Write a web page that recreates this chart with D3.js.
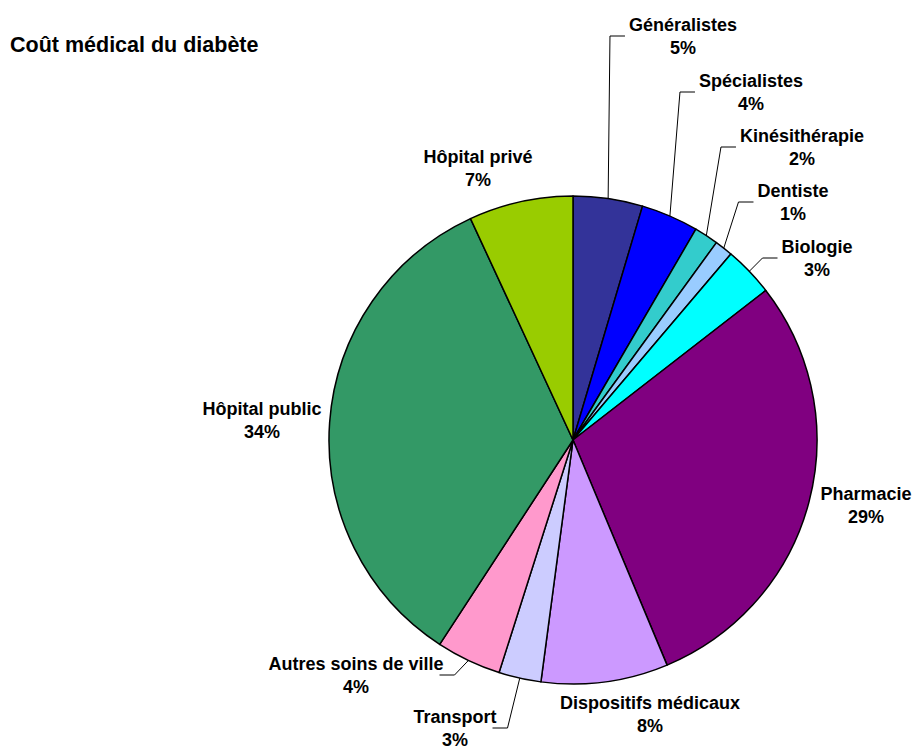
<!DOCTYPE html>
<html>
<head>
<meta charset="utf-8">
<script src="https://cdn.jsdelivr.net/npm/d3@7"></script>
<style>
  html, body { margin: 0; padding: 0; background: #fff; }
  svg { display: block; font-family: Arial, "Liberation Sans", sans-serif; font-weight: bold; }
  .label { font-size: 18px; fill: #000; }
  .title { font-size: 21.5px; fill: #000; }
  .leader { fill: none; stroke: #000; stroke-width: 1; }
</style>
</head>
<body>
<script>
// Postes de dépense (sens horaire depuis midi)
const categories = [
  'Généralistes', 'Spécialistes', 'Kinésithérapie', 'Dentiste', 'Biologie',
  'Pharmacie', 'Dispositifs médicaux', 'Transport', 'Autres soins de ville',
  'Hôpital public', 'Hôpital privé'
];
const shares = [4.6, 3.8, 1.6, 1.2, 3.3, 29.2, 8.4, 2.8, 4.3, 33.9, 6.9];
const colors = [
  '#333399', '#0000ff', '#33cccc', '#99ccff', '#00ffff',
  '#800080', '#cc99ff', '#ccccff', '#ff99cc', '#339966', '#99cc00'
];

// placement des étiquettes (centre x, ligne de base du nom) et côté du trait de rappel
const labelPos = {
  'Généralistes':          { x: 683, y: 31, leader: 'right' },
  'Spécialistes':          { x: 751, y: 87, leader: 'right' },
  'Kinésithérapie':        { x: 802, y: 142, leader: 'right' },
  'Dentiste':              { x: 793, y: 197, leader: 'right' },
  'Biologie':              { x: 817, y: 253, leader: 'right' },
  'Pharmacie':             { x: 866, y: 500 },
  'Dispositifs médicaux':  { x: 650, y: 709 },
  'Transport':             { x: 455, y: 723, leader: 'left' },
  'Autres soins de ville': { x: 356, y: 670, leader: 'left' },
  'Hôpital public':        { x: 262, y: 415 },
  'Hôpital privé':         { x: 478, y: 163 }
};

const width = 916, height = 750;
const cx = 573, cy = 440, radius = 244;

const svg = d3.select('body').append('svg')
  .attr('width', width)
  .attr('height', height);

svg.append('text')
  .attr('class', 'title')
  .attr('x', 10)
  .attr('y', 52)
  .text('Coût médical du diabète');

const data = categories.map((name, i) => ({ name, value: shares[i], color: colors[i] }));
const total = d3.sum(shares);
const pct = d3.format('.0%');

const pie = d3.pie().value(d => d.value).sort(null);
const arc = d3.arc().innerRadius(0).outerRadius(radius);
const arcs = pie(data);

const g = svg.append('g').attr('transform', `translate(${cx},${cy})`);

g.selectAll('path.slice')
  .data(arcs)
  .enter()
  .append('path')
  .attr('class', 'slice')
  .attr('d', arc)
  .attr('fill', d => d.data.color)
  .attr('stroke', '#000')
  .attr('stroke-width', 1.5)
  .attr('stroke-linejoin', 'round');

// Etiquettes
const labels = svg.selectAll('g.lbl')
  .data(arcs)
  .enter()
  .append('g')
  .attr('class', 'lbl');

labels.each(function(d) {
  const p = labelPos[d.data.name];
  const grp = d3.select(this);
  const t = grp.append('text')
    .attr('class', 'label')
    .attr('text-anchor', 'middle')
    .attr('x', p.x)
    .attr('y', p.y)
    .text(d.data.name);
  grp.append('text')
    .attr('class', 'label')
    .attr('text-anchor', 'middle')
    .attr('x', p.x)
    .attr('y', p.y + 23)
    .text(pct(d.data.value / total));

  if (!p.leader) return;
  const bb = t.node().getBBox();
  const mid = (d.startAngle + d.endAngle) / 2;
  const px = cx + radius * Math.sin(mid);
  const py = cy - radius * Math.cos(mid);
  const ly = p.y + 5;
  let endX, elbowX;
  if (p.leader === 'right') {
    endX = bb.x - 4;
    elbowX = endX - 15;
  } else {
    endX = bb.x + bb.width - 4;
    elbowX = endX + 15;
  }
  grp.append('path')
    .attr('class', 'leader')
    .attr('d', d3.line()([[endX, ly], [elbowX, ly], [px, py]]));
});
</script>
</body>
</html>
